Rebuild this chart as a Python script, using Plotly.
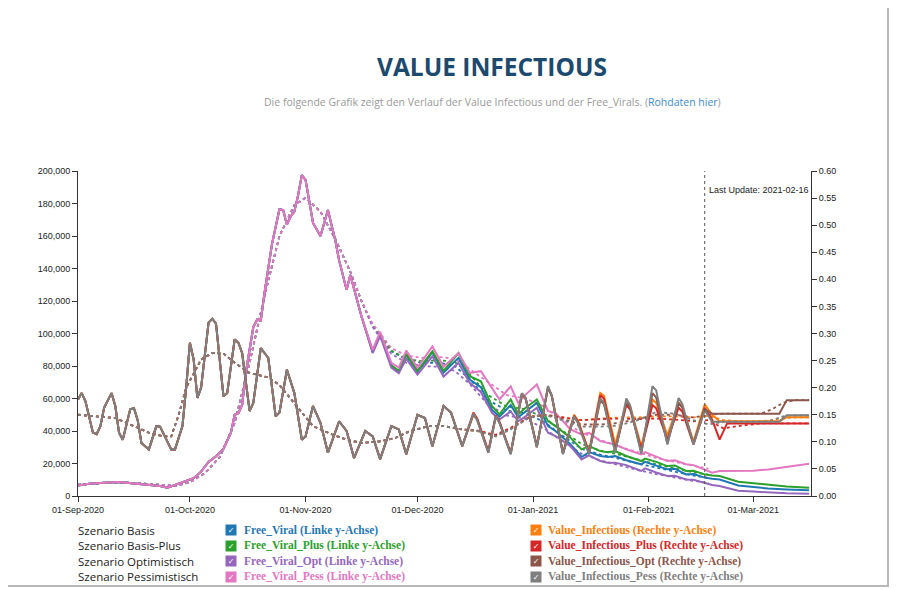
import plotly.graph_objects as go

# ---------------- data ----------------
# Free_Viral (left axis) – common history
fv_hist_dates = ["2020-09-01","2020-09-04","2020-09-08","2020-09-12","2020-09-16","2020-09-20","2020-09-23",
                 "2020-09-25","2020-09-27","2020-09-30","2020-10-02","2020-10-04","2020-10-06","2020-10-08",
                 "2020-10-10","2020-10-12","2020-10-13","2020-10-14","2020-10-15","2020-10-16","2020-10-18",
                 "2020-10-19","2020-10-20","2020-10-21","2020-10-23","2020-10-25","2020-10-26","2020-10-27",
                 "2020-10-28","2020-10-29","2020-10-30","2020-10-31","2020-11-01","2020-11-03","2020-11-05",
                 "2020-11-07","2020-11-09","2020-11-10","2020-11-12","2020-11-13","2020-11-16"]
fv_hist = [6500,7500,8200,8600,7700,7000,6200,
           5100,6800,9000,11000,15000,21000,24500,
           29000,39000,50000,51000,56000,76000,104000,
           108500,108000,125000,155000,176500,176000,167000,
           172000,175000,185000,197500,194500,168000,160000,
           176000,157000,145000,127000,136000,110500]

# Free_Viral scenario tails
fv_tail_dates = ["2020-11-19","2020-11-21","2020-11-24","2020-11-26","2020-11-28","2020-12-01","2020-12-05",
                 "2020-12-08","2020-12-12","2020-12-15","2020-12-18","2020-12-21","2020-12-23","2020-12-26",
                 "2020-12-28","2020-12-30","2021-01-02","2021-01-05","2021-01-07","2021-01-11","2021-01-14",
                 "2021-01-16","2021-01-19","2021-01-21","2021-01-23","2021-01-26","2021-01-30","2021-01-31",
                 "2021-02-03","2021-02-06","2021-02-08","2021-02-11","2021-02-13","2021-02-16","2021-02-18",
                 "2021-02-20","2021-02-25","2021-03-01","2021-03-05","2021-03-10","2021-03-16"]
fv_basis_tail = [88500,99500,80000,76500,87000,76500,88500,
                 76000,85000,71700,67000,53000,48800,56000,
                 48500,52000,57300,43000,40000,31800,24000,
                 27000,24600,24000,24600,22000,19500,21000,
                 18500,16400,16800,13300,13500,11300,10600,
                 10200,6500,5500,4600,4000,3500]
fv_plus_tail = [89000,100000,80500,77000,87500,77000,89000,
                77000,88000,73700,70600,55300,50200,59400,
                50200,54300,59400,46100,43000,35900,28700,
                30700,27600,27000,27600,24600,21500,23000,
                21000,18400,18800,15400,15500,13300,12600,
                12300,8800,7800,6800,5900,5100]
fv_opt_tail = [88000,98500,79000,75500,84500,74700,86000,
               73500,82000,69600,64000,51200,47100,52000,
               46000,49000,54300,38900,36900,30700,22500,
               25000,21500,20500,20500,19000,15400,17000,
               14500,12300,12500,10200,10000,8200,6800,
               6100,3300,2700,2100,1700,1400]
fv_pess_tail = [90000,101000,82000,79000,89500,79000,92000,
                79500,88000,75800,76800,66600,59400,67500,
                57300,62400,68600,52200,51200,41000,37900,
                38900,33800,32700,31700,28700,25600,27000,
                24000,21500,22000,19500,19000,16400,14300,
                15400,15400,15600,16300,17800,19800]

# Free_Viral moving averages (dotted)
fv_ma_hist_dates = ["2020-09-01","2020-09-08","2020-09-15","2020-09-22","2020-09-27","2020-10-01","2020-10-05",
                    "2020-10-09","2020-10-13","2020-10-17","2020-10-21","2020-10-25","2020-10-29","2020-11-01",
                    "2020-11-05","2020-11-09","2020-11-13","2020-11-16"]
fv_ma_hist = [7000,8000,8200,6800,6200,8500,14000,
              24000,45000,82000,123000,160000,179000,183500,
              175000,158000,138000,120000]
fv_ma_tail_dates = ["2020-11-19","2020-11-24","2020-11-28","2020-12-02","2020-12-07","2020-12-11","2020-12-15",
                    "2020-12-20","2020-12-25","2020-12-30","2021-01-04","2021-01-09","2021-01-14","2021-01-19",
                    "2021-01-24","2021-01-29","2021-02-03","2021-02-08","2021-02-13","2021-02-17"]
fv_ma_basis_tail = [104500,89000,84000,82000,82000,80000,72000,59000,52500,51000,45500,37000,29000,25500,
                    23000,20000,17500,15000,12500,11200]
fv_ma_plus_tail = [105000,89500,84500,83000,83500,82500,75000,62000,55000,53500,48000,40000,32000,28000,
                   25500,22500,19500,17000,14500,13200]
fv_ma_opt_tail = [104000,87500,82000,80000,79500,77000,69000,56000,49500,47500,41500,33500,26000,22000,
                  19000,16000,13500,11300,9300,8100]
fv_ma_pess_tail = [106000,91000,86500,85000,85500,84500,78000,70000,62000,60000,55000,46000,39000,34500,
                   30500,27000,23500,21000,18500,16800]

# Value_Infectious (right axis) – common history
vi_hist_dates = ["2020-09-01","2020-09-02","2020-09-03","2020-09-05","2020-09-06","2020-09-07","2020-09-08",
                 "2020-09-10","2020-09-11","2020-09-12","2020-09-13","2020-09-15","2020-09-16","2020-09-17",
                 "2020-09-18","2020-09-20","2020-09-22","2020-09-23","2020-09-25","2020-09-26","2020-09-27",
                 "2020-09-29","2020-09-30","2020-10-01","2020-10-02","2020-10-03","2020-10-04","2020-10-06",
                 "2020-10-07","2020-10-08","2020-10-10","2020-10-11","2020-10-13","2020-10-14","2020-10-15",
                 "2020-10-17","2020-10-18","2020-10-20","2020-10-21","2020-10-22","2020-10-24","2020-10-25",
                 "2020-10-27","2020-10-28","2020-10-29","2020-10-31","2020-11-01","2020-11-03","2020-11-05",
                 "2020-11-07","2020-11-10","2020-11-12","2020-11-14","2020-11-17","2020-11-19","2020-11-21",
                 "2020-11-24","2020-11-26","2020-11-28","2020-12-01","2020-12-03","2020-12-05","2020-12-08",
                 "2020-12-10","2020-12-13"]
vi_hist = [0.178,0.190,0.175,0.117,0.114,0.129,0.163,
           0.190,0.166,0.117,0.104,0.160,0.162,0.140,
           0.098,0.086,0.129,0.128,0.100,0.086,0.086,
           0.129,0.200,0.283,0.252,0.181,0.200,0.320,
           0.327,0.318,0.184,0.190,0.289,0.283,0.264,
           0.157,0.172,0.273,0.264,0.255,0.147,0.154,
           0.233,0.210,0.190,0.104,0.110,0.166,0.135,
           0.080,0.138,0.120,0.070,0.120,0.110,0.068,
           0.129,0.123,0.077,0.150,0.144,0.092,0.166,
           0.154,0.092]

vi_tail_dates = ["2020-12-16","2020-12-17","2020-12-20","2020-12-22","2020-12-23","2020-12-26","2020-12-29",
                 "2020-12-30","2021-01-02","2021-01-05","2021-01-06","2021-01-09","2021-01-12","2021-01-13",
                 "2021-01-16","2021-01-19","2021-01-20","2021-01-23","2021-01-26","2021-01-27","2021-01-30",
                 "2021-02-02","2021-02-03","2021-02-06","2021-02-09","2021-02-10","2021-02-13","2021-02-16",
                 "2021-02-18","2021-02-20","2021-02-22","2021-02-24","2021-03-08","2021-03-10","2021-03-16"]
vi_basis_tail = [0.150,0.142,0.082,0.147,0.136,0.079,0.188,
                 0.180,0.092,0.200,0.185,0.080,0.150,0.140,
                 0.082,0.190,0.185,0.095,0.172,0.165,0.092,
                 0.178,0.172,0.112,0.172,0.165,0.100,0.169,
                 0.150,0.138,0.138,0.138,0.138,0.1455,0.1455]
vi_plus_tail = [0.154,0.143,0.083,0.148,0.137,0.079,0.189,
                0.181,0.092,0.200,0.186,0.079,0.148,0.138,
                0.080,0.186,0.180,0.086,0.168,0.160,0.087,
                0.168,0.162,0.104,0.163,0.156,0.095,0.163,
                0.141,0.104,0.134,0.134,0.134,0.134,0.134]
vi_opt_tail = [0.151,0.141,0.080,0.147,0.135,0.078,0.189,
               0.180,0.090,0.201,0.185,0.078,0.147,0.136,
               0.078,0.176,0.170,0.082,0.172,0.165,0.080,
               0.190,0.182,0.097,0.172,0.163,0.097,0.160,
               0.152,0.152,0.152,0.152,0.152,0.177,0.177]
vi_pess_tail = [0.152,0.140,0.080,0.147,0.135,0.077,0.190,
                0.180,0.090,0.203,0.185,0.077,0.147,0.135,
                0.077,0.180,0.172,0.080,0.180,0.168,0.078,
                0.203,0.195,0.095,0.181,0.170,0.095,0.158,
                0.137,0.137,0.137,0.137,0.137,0.149,0.149]

# Value_Infectious moving averages (dotted)
vi_ma_hist_dates = ["2020-09-01","2020-09-07","2020-09-11","2020-09-16","2020-09-20","2020-09-24","2020-09-26",
                    "2020-09-28","2020-09-30","2020-10-04","2020-10-07","2020-10-10","2020-10-13","2020-10-17",
                    "2020-10-22","2020-10-25","2020-10-28","2020-10-31","2020-11-03","2020-11-08","2020-11-12",
                    "2020-11-16","2020-11-21","2020-11-25","2020-11-29","2020-12-04","2020-12-08","2020-12-13"]
vi_ma_hist = [0.150,0.147,0.144,0.129,0.117,0.110,0.110,
              0.150,0.200,0.252,0.264,0.263,0.246,0.227,
              0.219,0.205,0.180,0.154,0.129,0.114,0.104,
              0.098,0.101,0.107,0.120,0.129,0.129,0.123]
vi_ma_tail_dates = ["2020-12-17","2020-12-22","2020-12-26","2020-12-31","2021-01-04","2021-01-09","2021-01-14",
                    "2021-01-19","2021-01-24","2021-01-29","2021-02-03","2021-02-08","2021-02-13","2021-02-17",
                    "2021-02-21","2021-02-26","2021-03-03","2021-03-06","2021-03-09","2021-03-12","2021-03-16"]
vi_ma_basis_tail = [0.120,0.112,0.125,0.146,0.150,0.145,0.140,0.143,0.145,0.145,0.147,0.147,0.145,0.148,
                    0.140,0.138,0.138,0.140,0.144,0.145,0.145]
vi_ma_plus_tail = [0.121,0.113,0.126,0.146,0.150,0.145,0.140,0.142,0.143,0.142,0.143,0.141,0.138,0.140,
                   0.125,0.130,0.134,0.134,0.134,0.134,0.134]
vi_ma_opt_tail = [0.120,0.111,0.124,0.145,0.150,0.142,0.132,0.132,0.135,0.142,0.150,0.150,0.145,0.150,
                  0.152,0.152,0.152,0.160,0.172,0.177,0.177]
vi_ma_pess_tail = [0.120,0.110,0.123,0.145,0.150,0.140,0.128,0.128,0.130,0.140,0.155,0.152,0.140,0.132,
                   0.137,0.137,0.137,0.140,0.147,0.149,0.149]

scenario_labels = ["Szenario Basis", "Szenario Basis-Plus", "Szenario Optimistisch", "Szenario Pessimistisch"]
fv_names = ["Free_Viral (Linke y-Achse)", "Free_Viral_Plus (Linke y-Achse)",
            "Free_Viral_Opt (Linke y-Achse)", "Free_Viral_Pess (Linke y-Achse)"]
vi_names = ["Value_Infectious (Rechte y-Achse)", "Value_Infectious_Plus (Rechte y-Achse)",
            "Value_Infectious_Opt (Rechte y-Achse)", "Value_Infectious_Pess (Rechte y-Achse)"]
fv_colors = ["#1f77b4", "#2ca02c", "#9467bd", "#e377c2"]
vi_colors = ["#ff7f0e", "#d62728", "#8c564b", "#7f7f7f"]
last_update = "2021-02-16"

# ---------------- figure ----------------
# target plot box in page pixels; the page body has an 8px margin
OFF = 8
L, R, T, B = 78, 811, 171, 496
W, H = 900 - OFF, 590 - OFF


def px(x):
    return (x - L) / (R - L)


def py(y):
    return (B - y) / (B - T)


fig = go.Figure()

fv_tails = [fv_basis_tail, fv_plus_tail, fv_opt_tail, fv_pess_tail]
fv_ma_tails = [fv_ma_basis_tail, fv_ma_plus_tail, fv_ma_opt_tail, fv_ma_pess_tail]
vi_tails = [vi_basis_tail, vi_plus_tail, vi_opt_tail, vi_pess_tail]
vi_ma_tails = [vi_ma_basis_tail, vi_ma_plus_tail, vi_ma_opt_tail, vi_ma_pess_tail]

for i in range(4):
    fig.add_trace(go.Scatter(x=fv_ma_hist_dates + fv_ma_tail_dates, y=fv_ma_hist + fv_ma_tails[i],
                             mode="lines", line=dict(color=fv_colors[i], width=1.8, dash="dot"),
                             yaxis="y", showlegend=False, hoverinfo="skip"))
for i in range(4):
    fig.add_trace(go.Scatter(x=fv_hist_dates + fv_tail_dates, y=fv_hist + fv_tails[i],
                             mode="lines", line=dict(color=fv_colors[i], width=2),
                             yaxis="y", name=fv_names[i], showlegend=False))
for i in range(4):
    fig.add_trace(go.Scatter(x=vi_ma_hist_dates + vi_ma_tail_dates, y=vi_ma_hist + vi_ma_tails[i],
                             mode="lines", line=dict(color=vi_colors[i], width=1.8, dash="dot"),
                             yaxis="y2", showlegend=False, hoverinfo="skip"))
for i in range(4):
    fig.add_trace(go.Scatter(x=vi_hist_dates + vi_tail_dates, y=vi_hist + vi_tails[i],
                             mode="lines", line=dict(color=vi_colors[i], width=2),
                             yaxis="y2", name=vi_names[i], showlegend=False))

tickfont = dict(family="Liberation Sans, Arial, sans-serif", size=9, color="#222")
axis_common = dict(showgrid=False, zeroline=False, showline=True, linecolor="#333", linewidth=1,
                   ticks="outside", ticklen=5, tickcolor="#333", tickfont=tickfont)

fig.update_layout(
    width=W, height=H, autosize=False,
    margin=dict(l=L - OFF, r=W + OFF - R, t=T - OFF, b=H + OFF - B, pad=0),
    paper_bgcolor="white", plot_bgcolor="white",
    showlegend=False,
    xaxis=dict(type="date", range=["2020-09-01", "2021-03-16 12:00"], tick0="2020-09-01", dtick="M1",
               tickformat="%d-%b-%Y", **axis_common),
    yaxis=dict(range=[0, 200000], dtick=20000, tickformat=",d", **axis_common),
    yaxis2=dict(range=[0, 0.6], dtick=0.05, tickformat=".2f", overlaying="y", side="right",
                **axis_common),
)

shapes = [
    dict(type="line", xref="x", yref="paper", x0=last_update, x1=last_update, y0=0, y1=1,
         line=dict(color="#555", width=1, dash="dot")),
    dict(type="line", xref="paper", yref="paper", x0=px(888), x1=px(888), y0=py(OFF), y1=py(586),
         line=dict(color="#b8b8b8", width=2)),
    dict(type="line", xref="paper", yref="paper", x0=px(OFF), x1=px(889), y0=py(586), y1=py(586),
         line=dict(color="#b8b8b8", width=2)),
]
fig.update_layout(shapes=shapes)

ann = []
ann.append(dict(text="Last Update: " + last_update, xref="x", yref="paper", x=last_update, y=py(190),
                xanchor="left", yanchor="middle", xshift=2, showarrow=False,
                font=dict(family="Liberation Sans, Arial, sans-serif", size=9, color="#222")))
ann.append(dict(text="<b>VALUE INFECTIOUS</b>", xref="paper", yref="paper", x=px(492), y=py(66),
                xanchor="center", yanchor="middle", showarrow=False,
                font=dict(family="Open Sans, sans-serif", size=24.5, color="#1c4a6e")))
ann.append(dict(text="Die folgende Grafik zeigt den Verlauf der Value Infectious und der Free_Virals. "
                     "(<span style='color:#3d8bd0'>Rohdaten hier</span>)",
                xref="paper", yref="paper", x=px(492), y=py(102), xanchor="center", yanchor="middle",
                showarrow=False, font=dict(family="Open Sans, sans-serif", size=10.5, color="#999")))

row_y = [530, 545.5, 561, 576.5]
for i in range(4):
    ann.append(dict(text=scenario_labels[i], xref="paper", yref="paper", x=px(76), y=py(row_y[i]),
                    xanchor="left", yanchor="middle", showarrow=False,
                    font=dict(family="Open Sans, sans-serif", size=11.5, color="#222")))
    for cx, tx, name, col in [(231, 242, fv_names[i], fv_colors[i]), (536, 546, vi_names[i], vi_colors[i])]:
        ann.append(dict(text="✓", xref="paper", yref="paper", x=px(cx), y=py(row_y[i]),
                        xanchor="center", yanchor="middle", showarrow=False, width=10, height=10,
                        bgcolor=col, borderpad=0,
                        font=dict(family="DejaVu Sans, sans-serif", size=8, color="white")))
        ann.append(dict(text="<b>" + name + "</b>", xref="paper", yref="paper", x=px(tx), y=py(row_y[i]),
                        xanchor="left", yanchor="middle", showarrow=False,
                        font=dict(family="Liberation Serif, Times New Roman, serif", size=11.5, color=col)))
fig.update_layout(annotations=ann)

fig.write_html("out.html")
